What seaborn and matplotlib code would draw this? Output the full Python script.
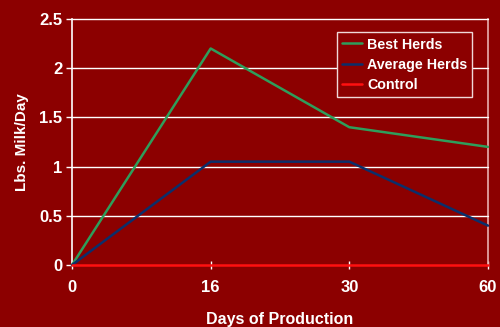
import matplotlib
matplotlib.use("Agg")
import matplotlib.pyplot as plt
import seaborn as sns
import pandas as pd

days = ["0", "16", "30", "60"]
best_herds = [0, 2.2, 1.4, 1.2]
average_herds = [0, 1.05, 1.05, 0.4]
control = [0, 0, 0, 0]
series_names = ["Best Herds", "Average Herds", "Control"]
colors = ["#2E9E5B", "#0B2F6B", "#FF1010"]

sns.set_theme(style="white")
plt.rcParams['font.family'] = ['Liberation Sans', 'DejaVu Sans']

bg = "#8C0000"
rows = []
for name, vals in zip(series_names, [best_herds, average_herds, control]):
    for d, v in zip(days, vals):
        rows.append({"Days": d, "Value": v, "Series": name})
df = pd.DataFrame(rows)

fig = plt.figure(figsize=(5, 3.27), dpi=100, facecolor=bg)
ax = fig.add_axes([0.144, 0.1896, 0.832, 0.7524])
ax.set_facecolor(bg)

for y in [0.5, 1, 1.5, 2, 2.5]:
    ax.axhline(y, color="white", lw=1, zorder=0)

sns.lineplot(data=df, x="Days", y="Value", hue="Series", palette=colors,
             hue_order=series_names, ax=ax, lw=1.8, sort=False)
for ln in ax.get_lines():
    ln.set_clip_on(False)
    ln.set_zorder(3)

ax.set_xlim(0, 3)
ax.set_ylim(0, 2.5)
ax.set_yticks([0, 0.5, 1, 1.5, 2, 2.5])
ax.set_yticklabels(["0", "0.5", "1", "1.5", "2", "2.5"])
ax.tick_params(axis="both", colors="white", labelcolor="white", labelsize=12,
               length=4, width=1)
ax.tick_params(axis="y", direction="out", left=True, pad=3)
ax.tick_params(axis="x", direction="inout", bottom=True, length=6, pad=8)
for lbl in ax.get_xticklabels() + ax.get_yticklabels():
    lbl.set_fontweight("bold")

for s in ["top", "bottom"]:
    ax.spines[s].set_visible(False)
ax.spines["left"].set_color("white")
ax.spines["left"].set_linewidth(1.2)
ax.spines["right"].set_color("#E8B0B0")
ax.spines["right"].set_linewidth(1.2)
ax.spines["right"].set_visible(True)

ax.set_xlabel("Days of Production", color="white", fontsize=11.5,
              fontweight="bold", labelpad=12)
ax.set_ylabel("Lbs. Milk/Day", color="white", fontsize=11,
              fontweight="bold")
ax.yaxis.set_label_coords(-0.103, 0.5)

leg = ax.legend(loc="upper right", bbox_to_anchor=(0.962, 0.945), frameon=True,
                fancybox=False, facecolor=bg, edgecolor="#F0D8D8",
                fontsize=10.3, handlelength=1.4, borderpad=0.35, labelspacing=0.45,
                handletextpad=0.35, borderaxespad=0, framealpha=1)
leg.get_frame().set_linewidth(1)
for t in leg.get_texts():
    t.set_color("white")
    t.set_fontweight("bold")

fig.savefig("out.png", dpi=100, facecolor=bg)
